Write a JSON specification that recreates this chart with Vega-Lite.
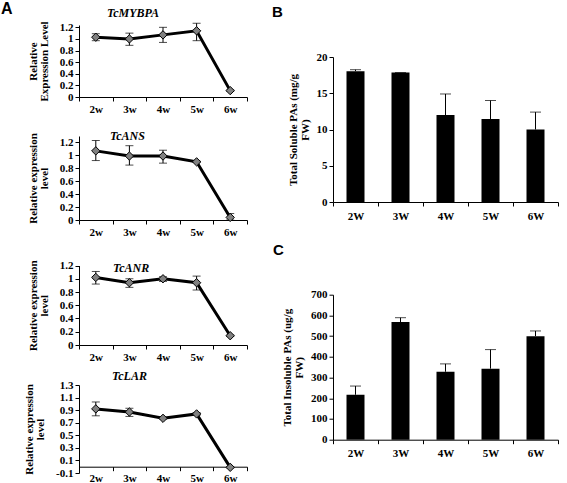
{
  "$schema": "https://vega.github.io/schema/vega-lite/v6.json",
  "padding": {"left": 1, "top": 0, "right": 0, "bottom": 0},
  "background": "white",
  "config": {
    "view": {"stroke": null},
    "axis": {"grid": false, "domainColor": "black", "tickColor": "black", "labelColor": "black", "titleColor": "black",
      "labelFont": "Liberation Serif", "titleFont": "Liberation Serif", "labelFontWeight": "bold", "titleFontWeight": "bold",
      "labelFontSize": 11, "titleFontSize": 11, "tickSize": 4, "domainWidth": 1, "tickWidth": 1},
    "title": {"font": "Liberation Serif", "fontWeight": "bold", "fontStyle": "italic", "fontSize": 12, "color": "black", "anchor": "start", "frame": "group"}
  },
  "datasets": {
    "expr": [
      {"gene": "TcMYBPA", "week": "2w", "mean": 1.03, "lo": 0.97, "hi": 1.09},
      {"gene": "TcMYBPA", "week": "3w", "mean": 1.0, "lo": 0.89, "hi": 1.1},
      {"gene": "TcMYBPA", "week": "4w", "mean": 1.07, "lo": 0.94, "hi": 1.2},
      {"gene": "TcMYBPA", "week": "5w", "mean": 1.14, "lo": 0.97, "hi": 1.27},
      {"gene": "TcMYBPA", "week": "6w", "mean": 0.11, "lo": 0.1, "hi": 0.12},
      {"gene": "TcANS", "week": "2w", "mean": 1.07, "lo": 0.92, "hi": 1.23},
      {"gene": "TcANS", "week": "3w", "mean": 0.99, "lo": 0.85, "hi": 1.15},
      {"gene": "TcANS", "week": "4w", "mean": 0.99, "lo": 0.88, "hi": 1.08},
      {"gene": "TcANS", "week": "5w", "mean": 0.9, "lo": 0.89, "hi": 0.91},
      {"gene": "TcANS", "week": "6w", "mean": 0.04, "lo": 0.0, "hi": 0.1},
      {"gene": "TcANR", "week": "2w", "mean": 1.02, "lo": 0.92, "hi": 1.11},
      {"gene": "TcANR", "week": "3w", "mean": 0.94, "lo": 0.87, "hi": 1.0},
      {"gene": "TcANR", "week": "4w", "mean": 1.0, "lo": 0.96, "hi": 1.03},
      {"gene": "TcANR", "week": "5w", "mean": 0.94, "lo": 0.83, "hi": 1.04},
      {"gene": "TcANR", "week": "6w", "mean": 0.14, "lo": 0.13, "hi": 0.15},
      {"gene": "TcLAR", "week": "2w", "mean": 0.92, "lo": 0.81, "hi": 1.03},
      {"gene": "TcLAR", "week": "3w", "mean": 0.87, "lo": 0.8, "hi": 0.93},
      {"gene": "TcLAR", "week": "4w", "mean": 0.77, "lo": 0.76, "hi": 0.78},
      {"gene": "TcLAR", "week": "5w", "mean": 0.84, "lo": 0.82, "hi": 0.86},
      {"gene": "TcLAR", "week": "6w", "mean": -0.01, "lo": -0.02, "hi": 0.0}
    ],
    "soluble": [
      {"week": "2W", "value": 18.05, "hi": 18.25},
      {"week": "3W", "value": 17.85, "hi": 17.85},
      {"week": "4W", "value": 12.0, "hi": 14.9},
      {"week": "5W", "value": 11.45, "hi": 14.0},
      {"week": "6W", "value": 10.0, "hi": 12.4}
    ],
    "insoluble": [
      {"week": "2W", "value": 217, "hi": 259},
      {"week": "3W", "value": 568, "hi": 589},
      {"week": "4W", "value": 328, "hi": 366},
      {"week": "5W", "value": 343, "hi": 435},
      {"week": "6W", "value": 500, "hi": 525}
    ]
  },
  "hconcat": [
    {
      "title": {"text": "A", "font": "Liberation Sans", "fontStyle": "normal", "fontSize": 16, "fontWeight": "bold", "dx": -78, "offset": -10.3},
      "bounds": "flush",
      "spacing": 39,
      "vconcat": [
        {
          "width": 168, "height": 72,
          "title": {"text": "TcMYBPA", "dx": 28, "offset": 1.3},
          "data": {"name": "expr"},
          "transform": [{"filter": "datum.gene === 'TcMYBPA'"}],
          "encoding": {
            "x": {"field": "week", "type": "ordinal", "sort": null, "scale": {"type": "band", "paddingInner": 0, "paddingOuter": 0},
              "axis": {"title": null, "labelAngle": 0, "tickBand": "extent", "labelPadding": 2}},
            "y": {"field": "mean", "type": "quantitative", "scale": {"domain": [0, 1.24], "nice": false},
              "axis": {"title": ["Relative", "Expression Level"], "values": [0, 0.2, 0.4, 0.6, 0.8, 1, 1.2], "format": "~g", "titlePadding": 10, "titleLineHeight": 11}}
          },
          "layer": [
            {"mark": {"type": "rule", "color": "black", "strokeWidth": 1}, "encoding": {"y": {"field": "lo", "type": "quantitative"}, "y2": {"field": "hi"}}},
            {"mark": {"type": "tick", "color": "black", "size": 8, "thickness": 1}, "encoding": {"y": {"field": "lo", "type": "quantitative"}}},
            {"mark": {"type": "tick", "color": "black", "size": 8, "thickness": 1}, "encoding": {"y": {"field": "hi", "type": "quantitative"}}},
            {"mark": {"type": "line", "color": "black", "strokeWidth": 3}},
            {"mark": {"type": "point", "shape": "diamond", "filled": true, "fill": "#808080", "stroke": "black", "strokeWidth": 1, "size": 70, "opacity": 1}}
          ]
        },
        {
          "width": 168, "height": 84,
          "title": {"text": "TcANS", "dx": 31, "offset": -10.2},
          "data": {"name": "expr"},
          "transform": [{"filter": "datum.gene === 'TcANS'"}],
          "encoding": {
            "x": {"field": "week", "type": "ordinal", "sort": null, "scale": {"type": "band", "paddingInner": 0, "paddingOuter": 0},
              "axis": {"title": null, "labelAngle": 0, "tickBand": "extent", "labelPadding": 2}},
            "y": {"field": "mean", "type": "quantitative", "scale": {"domain": [0, 1.3], "nice": false},
              "axis": {"title": ["Relative expression", "level"], "values": [0, 0.2, 0.4, 0.6, 0.8, 1, 1.2], "format": "~g", "titlePadding": 10, "titleLineHeight": 11}}
          },
          "layer": [
            {"mark": {"type": "rule", "color": "black", "strokeWidth": 1}, "encoding": {"y": {"field": "lo", "type": "quantitative"}, "y2": {"field": "hi"}}},
            {"mark": {"type": "tick", "color": "black", "size": 8, "thickness": 1}, "encoding": {"y": {"field": "lo", "type": "quantitative"}}},
            {"mark": {"type": "tick", "color": "black", "size": 8, "thickness": 1}, "encoding": {"y": {"field": "hi", "type": "quantitative"}}},
            {"mark": {"type": "line", "color": "black", "strokeWidth": 3}},
            {"mark": {"type": "point", "shape": "diamond", "filled": true, "fill": "#808080", "stroke": "black", "strokeWidth": 1, "size": 70, "opacity": 1}}
          ]
        },
        {
          "width": 168, "height": 86,
          "title": {"text": "TcANR", "dx": 34, "offset": -15.5},
          "data": {"name": "expr"},
          "transform": [{"filter": "datum.gene === 'TcANR'"}],
          "encoding": {
            "x": {"field": "week", "type": "ordinal", "sort": null, "scale": {"type": "band", "paddingInner": 0, "paddingOuter": 0},
              "axis": {"title": null, "labelAngle": 0, "tickBand": "extent", "labelPadding": 2}},
            "y": {"field": "mean", "type": "quantitative", "scale": {"domain": [0, 1.2], "nice": false, "range": [86, 6.5]},
              "axis": {"title": ["Relative expression", "level"], "values": [0, 0.2, 0.4, 0.6, 0.8, 1, 1.2], "format": "~g", "titlePadding": 10, "titleLineHeight": 11}}
          },
          "layer": [
            {"mark": {"type": "rule", "color": "black", "strokeWidth": 1}, "encoding": {"y": {"field": "lo", "type": "quantitative"}, "y2": {"field": "hi"}}},
            {"mark": {"type": "tick", "color": "black", "size": 8, "thickness": 1}, "encoding": {"y": {"field": "lo", "type": "quantitative"}}},
            {"mark": {"type": "tick", "color": "black", "size": 8, "thickness": 1}, "encoding": {"y": {"field": "hi", "type": "quantitative"}}},
            {"mark": {"type": "line", "color": "black", "strokeWidth": 3}},
            {"mark": {"type": "point", "shape": "diamond", "filled": true, "fill": "#808080", "stroke": "black", "strokeWidth": 1, "size": 70, "opacity": 1}}
          ]
        },
        {
          "width": 168, "height": 89,
          "title": {"text": "TcLAR", "dx": 33, "offset": -4},
          "data": {"name": "expr"},
          "transform": [{"filter": "datum.gene === 'TcLAR'"}],
          "encoding": {
            "x": {"field": "week", "type": "ordinal", "sort": null, "scale": {"type": "band", "paddingInner": 0, "paddingOuter": 0},
              "axis": {"title": null, "labelAngle": 0, "tickBand": "extent", "labelPadding": 2, "offset": -6.3}},
            "y": {"field": "mean", "type": "quantitative", "scale": {"domain": [-0.1, 1.3], "nice": false, "zero": false, "range": [89, 1]},
              "axis": {"title": ["Relative expression", "level"], "values": [-0.1, 0.1, 0.3, 0.5, 0.7, 0.9, 1.1, 1.3],
                "labelExpr": "datum.value < 0 ? '-' + format(-datum.value, '.1f') : format(datum.value, '.1f')", "titlePadding": 10, "titleLineHeight": 11}}
          },
          "layer": [
            {"mark": {"type": "rule", "color": "black", "strokeWidth": 1}, "encoding": {"y": {"field": "lo", "type": "quantitative"}, "y2": {"field": "hi"}}},
            {"mark": {"type": "tick", "color": "black", "size": 8, "thickness": 1}, "encoding": {"y": {"field": "lo", "type": "quantitative"}}},
            {"mark": {"type": "tick", "color": "black", "size": 8, "thickness": 1}, "encoding": {"y": {"field": "hi", "type": "quantitative"}}},
            {"mark": {"type": "line", "color": "black", "strokeWidth": 3}},
            {"mark": {"type": "point", "shape": "diamond", "filled": true, "fill": "#808080", "stroke": "black", "strokeWidth": 1, "size": 70, "opacity": 1}}
          ]
        }
      ]
    },
    {
      "bounds": "flush",
      "spacing": 92.7,
      "vconcat": [
        {
          "width": 225, "height": 177,
          "title": {"text": "B", "font": "Liberation Sans", "fontStyle": "normal", "fontSize": 15, "fontWeight": "bold", "dx": -61, "offset": 5.5},
          "data": {"name": "soluble"},
          "encoding": {
            "x": {"field": "week", "type": "ordinal", "sort": null, "scale": {"type": "band", "paddingInner": 0, "paddingOuter": 0},
              "axis": {"title": null, "labelAngle": 0, "tickBand": "extent", "labelPadding": 4}},
            "y": {"field": "value", "type": "quantitative", "scale": {"domain": [0, 20], "nice": false, "range": [177, 32]},
              "axis": {"title": ["Total Soluble PAs (mg/g", "FW)"], "values": [0, 5, 10, 15, 20], "titlePadding": 6, "titleLineHeight": 12}}
          },
          "layer": [
            {"mark": {"type": "bar", "color": "black", "width": {"band": 0.4}}},
            {"mark": {"type": "rule", "color": "black", "strokeWidth": 1}, "encoding": {"y": {"field": "value", "type": "quantitative"}, "y2": {"field": "hi"}}},
            {"mark": {"type": "tick", "color": "black", "size": 11, "thickness": 1}, "encoding": {"y": {"field": "hi", "type": "quantitative"}}}
          ]
        },
        {
          "width": 225, "height": 145,
          "title": {"text": "C", "font": "Liberation Sans", "fontStyle": "normal", "fontSize": 15, "fontWeight": "bold", "dx": -60, "offset": 31},
          "data": {"name": "insoluble"},
          "encoding": {
            "x": {"field": "week", "type": "ordinal", "sort": null, "scale": {"type": "band", "paddingInner": 0, "paddingOuter": 0},
              "axis": {"title": null, "labelAngle": 0, "tickBand": "extent", "labelPadding": 4}},
            "y": {"field": "value", "type": "quantitative", "scale": {"domain": [0, 700], "nice": false},
              "axis": {"title": ["Total Insoluble PAs (ug/g", "FW)"], "values": [0, 100, 200, 300, 400, 500, 600, 700], "titlePadding": 6, "titleLineHeight": 12}}
          },
          "layer": [
            {"mark": {"type": "bar", "color": "black", "width": {"band": 0.4}}},
            {"mark": {"type": "rule", "color": "black", "strokeWidth": 1}, "encoding": {"y": {"field": "value", "type": "quantitative"}, "y2": {"field": "hi"}}},
            {"mark": {"type": "tick", "color": "black", "size": 11, "thickness": 1}, "encoding": {"y": {"field": "hi", "type": "quantitative"}}}
          ]
        }
      ]
    }
  ],
  "spacing": 24
}
